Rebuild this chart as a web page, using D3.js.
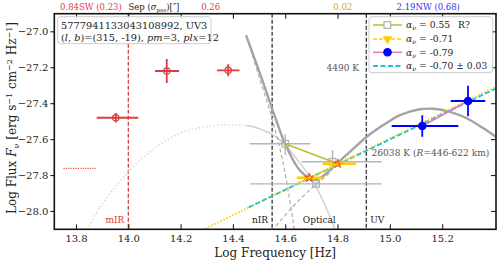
<!DOCTYPE html>
<html>
<head>
<meta charset="utf-8">
<script src="https://cdn.jsdelivr.net/npm/d3@7"></script>
<style>
  body { margin: 0; background: #fff; }
  svg { display: block; font-family: "DejaVu Serif", serif; }
</style>
</head>
<body>
<div id="viz"></div>
<script>
// --- data (log nu, log F_nu) ---
const xTicks = [13.8, 14.0, 14.2, 14.4, 14.6, 14.8, 15.0, 15.2];
const yTicks = [-27.0, -27.2, -27.4, -27.6, -27.8, -28.0];

// points with error ranges: x, y, [xlo, xhi], [ylo, yhi]
const redPts = [
  { x: 13.952, y: -27.481, xe: [13.879, 14.038], ye: [-27.507, -27.455] },
  { x: 14.147, y: -27.221, xe: [14.102, 14.194], ye: [-27.288, -27.154] },
  { x: 14.382, y: -27.217, xe: [14.339, 14.425], ye: [-27.250, -27.184] }
];
const grayPts = [
  { x: 14.600, y: -27.626, xe: [14.465, 14.695], ye: [-27.689, -27.572] },
  { x: 14.781, y: -27.726, xe: [14.663, 14.969], ye: [-27.772, -27.661] },
  { x: 14.718, y: -27.849, xe: [14.465, 14.969], ye: [-27.862, -27.836] }
];
const orangePts = [
  { x: 14.692, y: -27.815, xe: [14.644, 14.743], ye: [-27.827, -27.803] },
  { x: 14.801, y: -27.737, xe: [14.743, 14.871], ye: [-27.749, -27.725] }
];
const bluePts = [
  { x: 15.124, y: -27.527, xe: [15.007, 15.262], ye: [-27.587, -27.467] },
  { x: 15.299, y: -27.388, xe: [15.233, 15.365], ye: [-27.473, -27.303] }
];

// model curves
const sumCurve = [[14.450,-27.021],[14.507,-27.249],[14.561,-27.476],[14.599,-27.624],[14.650,-27.763],
  [14.695,-27.818],[14.720,-27.824],[14.750,-27.800],[14.784,-27.754],[14.848,-27.670],[14.912,-27.587],
  [14.975,-27.522],[15.039,-27.466],[15.115,-27.434],[15.166,-27.431],[15.230,-27.448],[15.294,-27.484],
  [15.358,-27.540],[15.405,-27.587]];
const coolBBext = [[13.843,-28.102],[13.892,-27.977],[13.956,-27.856],[14.019,-27.754],[14.083,-27.670],
  [14.147,-27.605],[14.210,-27.559],[14.274,-27.537],[14.338,-27.523],[14.402,-27.522],[14.450,-27.524]];
const coolBB = [[14.450,-27.524],[14.478,-27.531],[14.529,-27.559],[14.568,-27.590],[14.606,-27.643],
  [14.657,-27.735],[14.707,-27.837],[14.752,-27.967],[14.790,-28.102]];
const steepDash = [[14.453,-27.030],[14.500,-27.254],[14.548,-27.476],[14.592,-27.733],[14.635,-28.102]];
const riseDash = [[14.548,-28.112],[14.630,-27.975],[14.714,-27.856],[14.780,-27.780]];

const goldFit = [[14.25,-28.13],[15.41,-27.305]];
const goldSeg = [[14.644,-27.850],[14.871,-27.688]];
const cyanFit = [[14.46,-27.98],[15.41,-27.315]];
const oliveSeg = [[14.600,-27.626],[14.781,-27.726]];
const pinkSeg = [[15.124,-27.527],[15.299,-27.388]];
const mirLimit = [[13.752,-27.763],[13.879,-27.763]];

const regionLines = [14.0, 14.55, 14.91];

const legendAlpha = ["0.55", "-0.71", "-0.79", "-0.70 \u00b1 0.03"];

// --- layout ---
const W = 499, H = 264;
const m = { left: 54.3, right: 3, top: 13.7, bottom: 34.7 };
const x = d3.scaleLinear().domain([13.717, 15.406]).range([m.left, W - m.right]);
const y = d3.scaleLinear().domain([-28.102, -26.902]).range([H - m.bottom, m.top]);

const svg = d3.select("#viz").append("svg").attr("width", W).attr("height", H);

svg.append("clipPath").attr("id", "clip").append("rect")
  .attr("x", m.left).attr("y", m.top)
  .attr("width", W - m.left - m.right).attr("height", H - m.top - m.bottom);

const plot = svg.append("g").attr("clip-path", "url(#clip)");
const line = d3.line().x(d => x(d[0])).y(d => y(d[1]));
const smooth = d3.line().x(d => x(d[0])).y(d => y(d[1])).curve(d3.curveCatmullRom.alpha(0.5));

// region separators
plot.selectAll(".vline").data(regionLines).join("line")
  .attr("x1", d => x(d)).attr("x2", d => x(d))
  .attr("y1", m.top).attr("y2", H - m.bottom)
  .attr("stroke", (d, i) => i === 0 ? "#e03a3e" : "#333")
  .attr("stroke-width", 1.3)
  .attr("stroke-dasharray", "4,2");

// model curves
plot.append("path").attr("d", smooth(coolBBext)).attr("fill", "none")
  .attr("stroke", "#cfcfcf").attr("stroke-width", 1.4).attr("stroke-dasharray", "1.2,2.5");
plot.append("path").attr("d", smooth(coolBB)).attr("fill", "none")
  .attr("stroke", "#cfcfcf").attr("stroke-width", 1.4);
plot.append("path").attr("d", smooth(steepDash)).attr("fill", "none")
  .attr("stroke", "#b0b0b0").attr("stroke-width", 1.2).attr("stroke-dasharray", "4,2.5");
plot.append("path").attr("d", smooth(riseDash)).attr("fill", "none")
  .attr("stroke", "#b0b0b0").attr("stroke-width", 1.2).attr("stroke-dasharray", "4,2.5");
plot.append("path").attr("d", smooth(sumCurve)).attr("fill", "none")
  .attr("stroke", "#a3a3a3").attr("stroke-width", 2.4);

// power-law fits
plot.append("path").attr("d", line(goldFit)).attr("fill", "none")
  .attr("stroke", "#ffcc00").attr("stroke-width", 1.8).attr("stroke-dasharray", "1.5,1.8");
plot.append("path").attr("d", line(cyanFit)).attr("fill", "none")
  .attr("stroke", "#1fc3d3").attr("stroke-width", 1.8).attr("stroke-dasharray", "5,2.5");

// mIR upper limit marker
plot.append("path").attr("d", line(mirLimit)).attr("fill", "none")
  .attr("stroke", "#e8505a").attr("stroke-width", 1.2).attr("stroke-dasharray", "1.2,1.2");

function errorBars(g, pts, color, width) {
  g.selectAll(null).data(pts).join("line")
    .attr("x1", d => x(d.xe[0])).attr("x2", d => x(d.xe[1]))
    .attr("y1", d => y(d.y)).attr("y2", d => y(d.y))
    .attr("stroke", color).attr("stroke-width", width);
  g.selectAll(null).data(pts).join("line")
    .attr("x1", d => x(d.x)).attr("x2", d => x(d.x))
    .attr("y1", d => y(d.ye[0])).attr("y2", d => y(d.ye[1]))
    .attr("stroke", color).attr("stroke-width", width);
}

// gray (optical) points
const gGray = plot.append("g");
errorBars(gGray, grayPts, "#b5b5b5", 1.4);
gGray.selectAll("rect").data(grayPts).join("rect")
  .attr("x", d => x(d.x) - 3.3).attr("y", d => y(d.y) - 3.3)
  .attr("width", 6.6).attr("height", 6.6)
  .attr("fill", "none").attr("stroke", "#b0b0b0").attr("stroke-width", 1.2);
plot.append("path").attr("d", line(oliveSeg)).attr("fill", "none")
  .attr("stroke", "#bcbd22").attr("stroke-width", 1.4);

// orange points
const gOr = plot.append("g");
errorBars(gOr, orangePts, "#ffcc00", 2.4);
plot.append("path").attr("d", line(goldSeg)).attr("fill", "none")
  .attr("stroke", "#ffcc00").attr("stroke-width", 1.6).attr("stroke-dasharray", "4,2");
gOr.selectAll("path.star").data(orangePts).join("path").attr("class", "star")
  .attr("transform", d => `translate(${x(d.x)},${y(d.y)})`)
  .attr("d", d3.symbol(d3.symbolStar, 26))
  .attr("fill", "#ff8a00").attr("stroke", "#e0402a").attr("stroke-width", 0.8);

// blue (UV) points
plot.append("path").attr("d", line(pinkSeg)).attr("fill", "none")
  .attr("stroke", "#e377c2").attr("stroke-width", 1.6);
const gBlue = plot.append("g");
errorBars(gBlue, bluePts, "#0000ff", 1.8);
gBlue.selectAll("circle").data(bluePts).join("circle")
  .attr("cx", d => x(d.x)).attr("cy", d => y(d.y)).attr("r", 4.3)
  .attr("fill", "#0000ff");

// red (mIR) points
const gRed = plot.append("g");
errorBars(gRed, redPts, "#e03a3e", 1.8);
gRed.selectAll("circle").data(redPts).join("circle")
  .attr("cx", d => x(d.x)).attr("cy", d => y(d.y)).attr("r", 3.2)
  .attr("fill", "none").attr("stroke", "#e03a3e").attr("stroke-width", 1.2);

// text annotations inside the plot
const txt = (t, xv, yv, opt = {}) => svg.append("text")
  .attr("x", xv).attr("y", yv).attr("font-size", opt.size || 9)
  .attr("fill", opt.color || "#222").attr("text-anchor", opt.anchor || "start").text(t);

txt("4490 K", x(14.82), 71, { color: "#555", anchor: "middle" });
const t26 = txt("26038 K  (", x(14.93), 156, { color: "#555", size: 9.1 });
t26.append("tspan").attr("font-style", "italic").text("R");
t26.append("tspan").text("=446-622 km)");
txt("mIR", x(14.0) - 4, 223, { color: "#e03a3e", anchor: "end" });
txt("nIR", x(14.55) - 4, 223, { anchor: "end" });
txt("Optical", x(14.73), 223, { anchor: "middle" });
txt("UV", x(14.91) + 4, 223);

// frame and axes
const gx = svg.append("g").attr("transform", `translate(0,${H - m.bottom})`)
  .call(d3.axisBottom(x).tickValues(xTicks).tickSize(-5).tickPadding(6).tickFormat(d3.format(".1f")));
const gxt = svg.append("g").attr("transform", `translate(0,${m.top})`)
  .call(d3.axisTop(x).tickValues(xTicks).tickSize(-5).tickFormat(""));
const gy = svg.append("g").attr("transform", `translate(${m.left},0)`)
  .call(d3.axisLeft(y).tickValues(yTicks).tickSize(4).tickPadding(2)
    .tickFormat(d => d3.format(".1f")(d).replace("-", "\u2212")));
const gyr = svg.append("g").attr("transform", `translate(${W - m.right},0)`)
  .call(d3.axisRight(y).tickValues(yTicks).tickSize(-5).tickFormat(""));
[gx, gxt, gy, gyr].forEach(g => {
  g.select(".domain").remove();
  g.selectAll("line").attr("stroke", "#222").attr("stroke-width", 1.1);
  g.selectAll("text").attr("font-family", "DejaVu Serif, serif").attr("font-size", 10).attr("fill", "#222");
});
svg.append("rect").attr("x", m.left).attr("y", m.top)
  .attr("width", W - m.left - m.right).attr("height", H - m.top - m.bottom)
  .attr("fill", "none").attr("stroke", "#111").attr("stroke-width", 1.6);

// axis titles
txt("Log Frequency [Hz]", (m.left + W - m.right) / 2, 257, { size: 12, anchor: "middle" });
const yl = svg.append("text").attr("transform", "translate(16,118) rotate(-90)")
  .attr("text-anchor", "middle").attr("font-size", 12).attr("fill", "#222");
yl.append("tspan").text("Log Flux ");
yl.append("tspan").attr("font-style", "italic").text("F");
yl.append("tspan").attr("font-size", 8).attr("dy", 2.5).text("\u03bd");
yl.append("tspan").attr("dy", -2.5).text(" [erg s");
yl.append("tspan").attr("font-size", 8).attr("dy", -4).text("\u22121");
yl.append("tspan").attr("dy", 4).text(" cm");
yl.append("tspan").attr("font-size", 8).attr("dy", -4).text("\u22122");
yl.append("tspan").attr("dy", 4).text(" Hz");
yl.append("tspan").attr("font-size", 8).attr("dy", -4).text("\u22121");
yl.append("tspan").attr("dy", 4).text("]");

// top separation labels
const topLab = [
  { t: "0.84SW (0.23)", v: 13.857, c: "#e03a3e" },
  { t: "0.26", v: 14.315, c: "#e03a3e" },
  { t: "0.02", v: 14.820, c: "#d4a020" },
  { t: "2.19NW (0.68)", v: 15.147, c: "#3030ff" }
];
topLab.forEach(d => txt(d.t, x(d.v), 10, { color: d.c, anchor: "middle", size: 8.5 }));
const sep = txt("Sep (", x(14.098), 10, { anchor: "middle", size: 8.5 });
sep.append("tspan").attr("font-style", "italic").text("\u03c3");
sep.append("tspan").attr("font-size", 5.5).attr("dy", 1.8).text("pos");
sep.append("tspan").attr("dy", -1.8).text(")[\u2033]");

// info box
svg.append("rect").attr("x", 57.7).attr("y", 16.7).attr("width", 153.3).attr("height", 27)
  .attr("rx", 3).attr("fill", "#fff").attr("fill-opacity", 0.85)
  .attr("stroke", "#ccc").attr("stroke-width", 1);
txt("5777941133043108992, UV3", 61, 28.5, { size: 9.8 });
const info = txt("(", 61, 40.5, { size: 9.8 });
[["l", 1], [", ", 0], ["b", 1], [")=(315, -19), ", 0], ["pm", 1], ["=3, ", 0], ["plx", 1], ["=12", 0]]
  .forEach(([s, it]) => info.append("tspan").attr("font-style", it ? "italic" : "normal").text(s));

// legend
const lg = svg.append("g");
lg.append("rect").attr("x", 369).attr("y", 16.7).attr("width", 123.7).attr("height", 56)
  .attr("rx", 3).attr("fill", "#fff").attr("fill-opacity", 0.9)
  .attr("stroke", "#ccc").attr("stroke-width", 1);
const rows = [25, 39, 52.3, 66];
const ls = [
  { c: "#bcbd22", dash: null },
  { c: "#ffcc00", dash: "4,2" },
  { c: "#e377c2", dash: null },
  { c: "#1fc3d3", dash: "5,2.5" }
];
rows.forEach((ry, i) => {
  lg.append("line").attr("x1", 373).attr("x2", 402).attr("y1", ry).attr("y2", ry)
    .attr("stroke", ls[i].c).attr("stroke-width", i === 3 ? 1.8 : 1.5)
    .attr("stroke-dasharray", ls[i].dash);
  const t = lg.append("text").attr("x", 406).attr("y", ry + 3.3)
    .attr("font-size", 9.2).attr("fill", "#222");
  t.append("tspan").attr("font-style", "italic").text("\u03b1");
  t.append("tspan").attr("font-style", "italic").attr("font-size", 6.5).attr("dy", 2).text("\u03bd");
  t.append("tspan").attr("dy", -2).text(" = " + legendAlpha[i]);
  if (i === 0) t.append("tspan").attr("x", 458).text("R?");
});
lg.append("rect").attr("x", 384).attr("y", rows[0] - 3.3).attr("width", 6.6).attr("height", 6.6)
  .attr("fill", "#fff").attr("stroke", "#b0b0b0").attr("stroke-width", 1.2);
lg.append("path")
  .attr("d", d3.symbol(d3.symbolTriangle, 40)).attr("transform", `translate(387.5,${rows[1]}) rotate(180)`)
  .attr("fill", "#ffcc00");
lg.append("circle").attr("cx", 387.5).attr("cy", rows[2]).attr("r", 4.3).attr("fill", "#0000ff");
</script>
</body>
</html>
